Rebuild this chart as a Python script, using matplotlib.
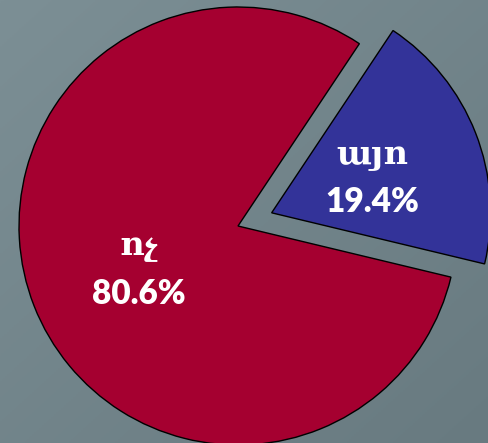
import numpy as np
import matplotlib.pyplot as plt
from matplotlib.colors import LinearSegmentedColormap
from matplotlib.transforms import offset_copy

# data
labels = ["այո", "ոչ"]
shares = [19.4, 80.6]
colors = ["#333399", "#A50030"]
explode = [0.165, 0.0]

W, H = 488, 443
fig = plt.figure(figsize=(W / 100, H / 100), dpi=100)

# gray-blue gradient background
bg = fig.add_axes([0, 0, 1, 1])
gx, gy = np.meshgrid(np.linspace(0, 1, 200), np.linspace(0, 1, 200))
grad = (gx + gy) / 2
cmap = LinearSegmentedColormap.from_list("bg", ["#7c8f95", "#687a80"])
bg.imshow(grad, cmap=cmap, aspect="auto", extent=[0, 1, 0, 1], origin="upper")
bg.axis("off")

ax = fig.add_axes([0, 0, 1, 1])
ax.patch.set_alpha(0)
# pie centre sits at (238, 226) px, radius 219 px
r_px = 219
cx, cy = 238, 226
texts = [f"{l}\n{s:.1f}%" for l, s in zip(labels, shares)]
wedges, txts = ax.pie(shares, labels=texts, colors=colors, explode=explode,
                      startangle=-13.5, counterclock=True, labeldistance=0.49,
                      wedgeprops=dict(edgecolor="black", linewidth=1.0))
for t in txts:
    t.set_ha("center")
    t.set_va("center")
    t.set_color("white")
    t.set_fontsize(24)
    t.set_fontweight("heavy")
    t.set_family(["Lato", "DejaVu Serif"])
    t.set_linespacing(1.6)
    # nudge labels down a few pixels
    t.set_transform(offset_copy(ax.transData, fig=fig, x=1, y=-5, units="dots"))
ax.set_xlim(-cx / r_px, (W - cx) / r_px)
ax.set_ylim(-(H - cy) / r_px, cy / r_px)
ax.axis("off")

fig.savefig("out.png", dpi=100)
